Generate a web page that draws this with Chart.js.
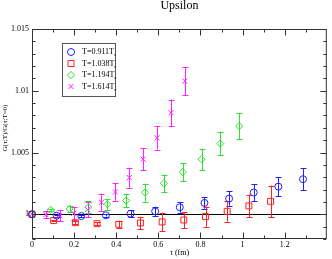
<!DOCTYPE html>
<html><head><meta charset="utf-8">
<script src="https://cdn.jsdelivr.net/npm/chart.js@4/dist/chart.umd.min.js"></script>
<style>html,body{margin:0;padding:0;background:#fff;}#wrap{width:332px;height:259px;}</style>
</head><body><div id="wrap"><canvas id="c" width="332" height="259"></canvas></div>
<script>
// ---- data ----
const seriesNames = ['T=0.911T', 'T=1.038T', 'T=1.194T', 'T=1.614T'];
const tau0911 = [0, 0.117, 0.234, 0.351, 0.468, 0.585, 0.702, 0.819, 0.936, 1.053, 1.170, 1.287];
const g0911   = [1.0, 0.99989, 0.99986, 0.99992, 1.00005, 1.00024, 1.00057, 1.00092, 1.00127, 1.00176, 1.00224, 1.00284];
const e0911   = [0, 0.00008, 0.0001, 0.0001, 0.00027, 0.00038, 0.00043, 0.00046, 0.00058, 0.0007, 0.00078, 0.00088];
const tau1038 = [0, 0.103, 0.206, 0.309, 0.412, 0.515, 0.618, 0.721, 0.824, 0.927, 1.030, 1.133];
const g1038   = [1.0, 0.99949, 0.99932, 0.99924, 0.99919, 0.9993, 0.99938, 0.99954, 0.99981, 1.00024, 1.00068, 1.00105];
const e1038   = [0, 0.00005, 0.0001, 0.00012, 0.0003, 0.0005, 0.00074, 0.00065, 0.0008, 0.00084, 0.00092, 0.00128];
const tau1194 = [0, 0.089, 0.179, 0.268, 0.358, 0.447, 0.537, 0.626, 0.716, 0.805, 0.894, 0.984];
const g1194   = [1.0, 1.00035, 1.00043, 1.00057, 1.00081, 1.00111, 1.00176, 1.00251, 1.00341, 1.00446, 1.00573, 1.00714];
const e1194   = [0, 0.00008, 0.00027, 0.00047, 0.00043, 0.00053, 0.00073, 0.0007, 0.00074, 0.00086, 0.00097, 0.00105];
const tau1614 = [0, 0.066, 0.132, 0.198, 0.264, 0.330, 0.396, 0.462, 0.528, 0.594, 0.660, 0.726];
const g1614   = [1.0, 0.99997, 0.99989, 1.00008, 1.00038, 1.00097, 1.00181, 1.00297, 1.00446, 1.00619, 1.00822, 1.01078];
const e1614   = [0, 0.00026, 0.00043, 0.00053, 0.0006, 0.00068, 0.00073, 0.00081, 0.00089, 0.00095, 0.00107, 0.00116];

const xTickValues = [0, 0.2, 0.4, 0.6, 0.8, 1.0, 1.2];
const xTickLabels = ['0', '0.2', '0.4', '0.6', '0.8', '1', '1.2'];
const xMinorValues = [0.1, 0.3, 0.5, 0.7, 0.9, 1.1, 1.3];
const yTickValues = [1.0, 1.005, 1.01, 1.015];
const yTickLabels = ['1', '1.005', '1.01', '1.015'];
const yMinorValues = [0.998, 0.999, 1.001, 1.002, 1.003, 1.004, 1.006, 1.007, 1.008, 1.009, 1.011, 1.012, 1.013, 1.014];
const refLine = 1.0;

const titleText = 'Upsilon';
const xTitle = 'τ (fm)';
const yTitle = 'G(τ;T)/G(τ;T=0)';

function pts(xs, ys, es) { return xs.map((v, i) => ({ x: v, y: ys[i], e: es[i] })); }

const SERIF = '"Liberation Serif", "DejaVu Serif", serif';
const colors = ['#2020ff', '#ff2020', '#30e030', '#ff20ff'];
const styles = ['circle', 'rect', 'rectRot', 'crossRot'];
const radii = [3.5, 4.2, 3.6, 3.6];
const allData = [pts(tau0911, g0911, e0911), pts(tau1038, g1038, e1038), pts(tau1194, g1194, e1194), pts(tau1614, g1614, e1614)];

function seg(ctx, x1, y1, x2, y2) { ctx.beginPath(); ctx.moveTo(x1, y1); ctx.lineTo(x2, y2); ctx.stroke(); }

const decor = {
  id: 'decor',
  beforeDatasetsDraw(chart) {
    const { ctx, chartArea: a, scales: { x, y } } = chart;
    ctx.save();
    ctx.lineWidth = 1;
    ctx.strokeStyle = '#000';
    const yr = Math.round(y.getPixelForValue(refLine)) + 0.5;
    seg(ctx, a.left, yr, a.right, yr);
    chart.data.datasets.forEach(ds => {
      ctx.strokeStyle = ds.borderColor;
      ds.data.forEach(p => {
        if (!p.e) return;
        const px = Math.round(x.getPixelForValue(p.x)) + 0.5;
        const lo = y.getPixelForValue(p.y - p.e), hi = y.getPixelForValue(p.y + p.e);
        seg(ctx, px, lo, px, hi);
        seg(ctx, px - 3, Math.round(lo) + 0.5, px + 3, Math.round(lo) + 0.5);
        seg(ctx, px - 3, Math.round(hi) + 0.5, px + 3, Math.round(hi) + 0.5);
      });
    });
    ctx.restore();
  },
  afterDraw(chart) {
    const { ctx, chartArea: a, scales: { x, y } } = chart;
    ctx.save();
    ctx.strokeStyle = '#333';
    ctx.lineWidth = 1;
    const L = a.left + 0.5, R = a.right - 0.5, T = a.top + 0.5, B = a.bottom - 0.5;
    ctx.strokeRect(L, T, R - L, B - T);
    // ticks (inward on all four sides)
    const xt = (v, len) => { const px = Math.round(x.getPixelForValue(v)) + 0.5; seg(ctx, px, B, px, B - len); seg(ctx, px, T, px, T + len); };
    const yt = (v, len) => { const py = Math.round(y.getPixelForValue(v)) + 0.5; seg(ctx, L, py, L + len, py); seg(ctx, R, py, R - len, py); };
    xTickValues.forEach(v => xt(v, 6)); xMinorValues.forEach(v => xt(v, 3));
    yTickValues.forEach(v => yt(v, 6)); yMinorValues.forEach(v => yt(v, 3));
    // tick labels
    ctx.fillStyle = '#000';
    ctx.font = '8px ' + SERIF;
    ctx.textAlign = 'center'; ctx.textBaseline = 'middle';
    xTickValues.forEach((v, i) => ctx.fillText(xTickLabels[i], x.getPixelForValue(v), a.bottom + 6));
    ctx.textAlign = 'right';
    yTickValues.forEach((v, i) => ctx.fillText(yTickLabels[i], a.left - 3, y.getPixelForValue(v)));
    // axis titles
    ctx.textAlign = 'center';
    ctx.fillText(xTitle, (a.left + a.right) / 2, a.bottom + 14);
    ctx.save();
    ctx.translate(5, 128);
    ctx.rotate(-Math.PI / 2);
    ctx.font = '7px ' + SERIF;
    ctx.fillText(yTitle, 0, 0);
    ctx.restore();
    // title
    ctx.font = '12px ' + SERIF;
    ctx.fillText(titleText, (a.left + a.right) / 2, 6);
    // legend
    const bx = 62.5, by = 43.5, bw = 53, bh = 53;
    ctx.strokeStyle = '#555';
    ctx.strokeRect(bx, by, bw, bh);
    chart.data.datasets.forEach((ds, i) => {
      const cy = 52 + i * 11.5;
      ctx.strokeStyle = ds.borderColor;
      ctx.fillStyle = 'rgba(0,0,0,0)';
      ctx.lineWidth = 1;
      Chart.helpers.drawPoint(ctx, { pointStyle: ds.pointStyle, radius: ds.pointRadius, borderWidth: 1 }, 71, cy);
      ctx.fillStyle = '#000';
      ctx.font = '8px ' + SERIF;
      ctx.textAlign = 'left';
      ctx.fillText(ds.label, 82, cy);
      const w = ctx.measureText(ds.label).width;
      ctx.font = '5px ' + SERIF;
      ctx.fillText('c', 82 + w, cy + 3);
    });
    ctx.restore();
  }
};

new Chart(document.getElementById('c'), {
  type: 'scatter',
  data: {
    datasets: allData.map((d, i) => ({
      label: seriesNames[i],
      data: d,
      showLine: false,
      pointStyle: styles[i],
      pointRadius: radii[i],
      pointBorderWidth: 1,
      borderColor: colors[i],
      backgroundColor: 'rgba(0,0,0,0)',
      pointBackgroundColor: 'rgba(0,0,0,0)',
      clip: false
    }))
  },
  options: {
    responsive: false,
    animation: false,
    events: [],
    layout: { padding: { left: 32, right: 1, top: 29, bottom: 20 } },
    plugins: { legend: { display: false }, tooltip: { enabled: false }, title: { display: false } },
    scales: {
      x: { type: 'linear', min: 0, max: 1.4, display: false },
      y: { type: 'linear', min: 0.998, max: 1.015, display: false }
    }
  },
  plugins: [decor]
});
</script>
</body></html>
